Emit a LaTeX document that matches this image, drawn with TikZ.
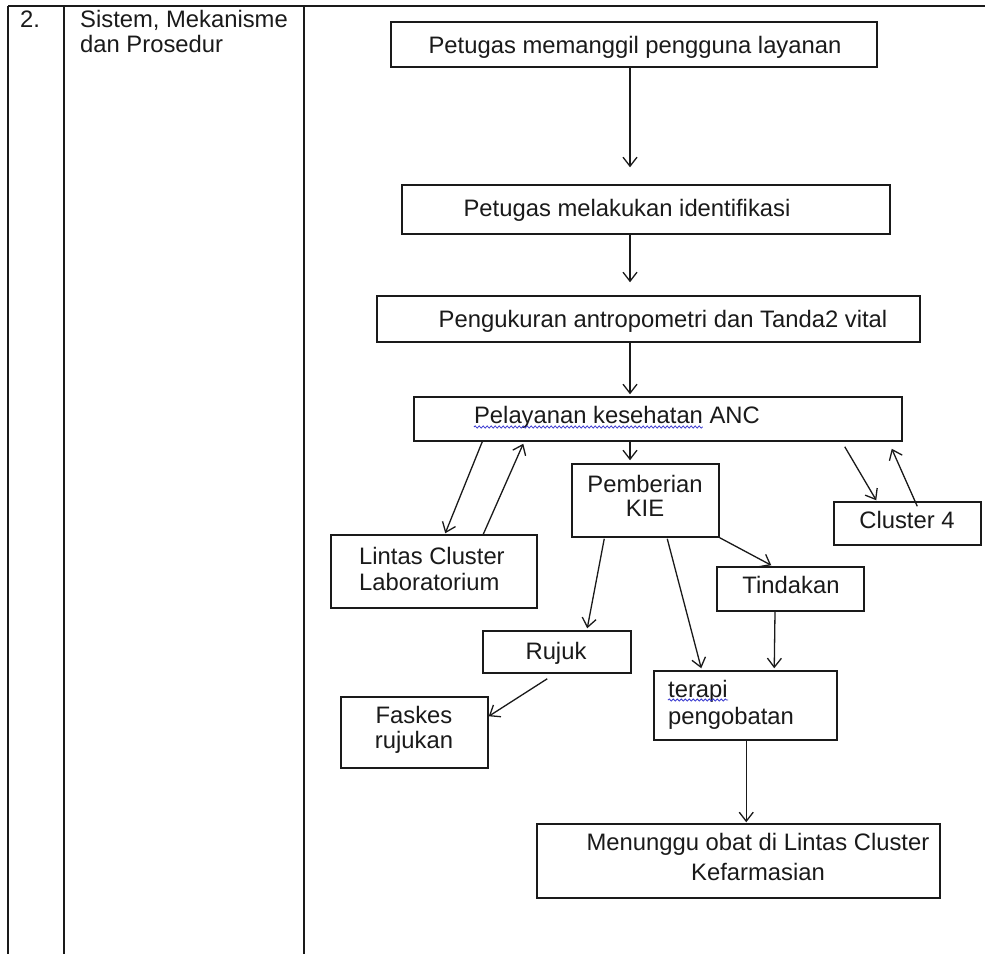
\documentclass[tikz,border=0pt]{standalone}
\usepackage{fontspec}
\setmainfont{Liberation Sans}
\usetikzlibrary{arrows.meta,calc,decorations.pathmorphing}
\definecolor{ink}{HTML}{1A1A1A}
\definecolor{squigblue}{HTML}{3A3AD0}
\begin{document}
\begin{tikzpicture}[x=1pt,y=-1pt,
  box/.style={draw=ink, line width=1.5pt, rectangle, inner sep=0pt},
  txt/.style={text=ink, font=\fontsize{23.8}{26}\selectfont, inner sep=0pt},
  arr/.style={draw=ink, line width=1.3pt, -{Straight Barb[length=9pt,width=14pt]}},
  tablerule/.style={draw=ink, line width=2pt},
  wavy/.style={draw=squigblue, line width=0.8pt, decorate, decoration={snake, amplitude=1.1pt, segment length=4pt}}]
\useasboundingbox (0,0) rectangle (985,954);
\fill[white] (0,0) rectangle (985,954);

% table rules
\draw[tablerule] (8,6) -- (985,6);
\draw[tablerule] (8,6) -- (8,954);
\draw[tablerule] (64,6) -- (64,954);
\draw[tablerule] (304,6) -- (304,954);

% left column texts
\node[txt, anchor=base west] (num) at (20,27) {2.};
\node[txt, anchor=base west, align=left] (head) at (80,52) {Sistem, Mekanisme\\[-1pt]dan Prosedur};

% boxes
\node[box, minimum width=486pt, minimum height=45pt] (b1) at (634,44.5) {};
\node[box, minimum width=488pt, minimum height=49pt] (b2) at (646,209.5) {};
\node[box, minimum width=543pt, minimum height=46pt] (b3) at (648.5,319) {};
\node[box, minimum width=488pt, minimum height=44pt] (b4) at (658,419) {};
\node[box, minimum width=147pt, minimum height=73pt] (kie) at (645.5,500.5) {};
\node[box, minimum width=206pt, minimum height=73pt] (lab) at (434,571.5) {};
\node[box, minimum width=147pt, minimum height=43pt] (c4) at (907.5,523.5) {};
\node[box, minimum width=147pt, minimum height=44pt] (tin) at (790.5,589) {};
\node[box, minimum width=148pt, minimum height=42pt] (ruj) at (557,652) {};
\node[box, minimum width=147pt, minimum height=71pt] (fas) at (414.5,732.5) {};
\node[box, minimum width=183pt, minimum height=69pt] (ter) at (745.5,705.5) {};
\node[box, minimum width=403pt, minimum height=74pt] (men) at (738.5,861) {};

% texts
\node[txt, anchor=base] (t1) at (635,53) {Petugas memanggil pengguna layanan};
\node[txt, anchor=base] (t2) at (627,216) {Petugas melakukan identifikasi};
\node[txt, anchor=base] (t3) at (663,327) {Pengukuran antropometri dan Tanda2 vital};
\node[txt, anchor=base] (t4) at (617,423) {Pelayanan kesehatan ANC};
\node[txt, anchor=base, align=center] (tkie) at (645,516) {Pemberian\\[-2pt]KIE};
\node[txt, anchor=base west, align=left] (tlab) at (359,590) {Lintas Cluster\\Laboratorium};
\node[txt, anchor=base] (tc4) at (907,528) {Cluster 4};
\node[txt, anchor=base] (ttin) at (791,593) {Tindakan};
\node[txt, anchor=base] (truj) at (556,659) {Rujuk};
\node[txt, anchor=base, align=center] (tfas) at (414,748) {Faskes\\[-1pt]rujukan};
\node[txt, anchor=base west, align=left] (tter) at (668,724) {terapi\\[1pt]pengobatan};
\node[txt, anchor=base, align=center] (tmen) at (758,880) {Menunggu obat di Lintas Cluster\\[4pt]Kefarmasian};

% spell-check underlines
\draw[wavy] ([yshift=-4pt]t4.base west) -- ([xshift=229pt,yshift=-4pt]t4.base west);
\draw[wavy] ([yshift=24pt]tter.base west) -- ([xshift=60pt,yshift=24pt]tter.base west);

% connectors
\draw[arr] ([xshift=-4pt]b1.south) -- ([xshift=-16pt,yshift=17pt]b2.north);
\draw[arr] ([xshift=-16pt]b2.south) -- ([xshift=-18.5pt,yshift=13pt]b3.north);
\draw[arr] ([xshift=-18.5pt]b3.south) -- ([xshift=-28pt,yshift=2pt]b4.north);
\draw[arr] ([xshift=-28pt]b4.south) -- ([xshift=-15.5pt,yshift=3pt]kie.north);
\draw[arr] ([xshift=69pt]b4.south west) -- ([xshift=115pt,yshift=1pt]lab.north west);
\draw[arr] ([xshift=153pt]lab.north west) -- ([xshift=110pt,yshift=-2pt]b4.south west);
\draw[arr] ([xshift=-58pt,yshift=-5pt]b4.south east) -- ([xshift=43pt,yshift=1pt]c4.north west);
\draw[arr] ([xshift=84pt,yshift=-5pt]c4.north west) -- ([xshift=-11pt,yshift=-7pt]b4.south east);
\draw[arr] (kie.south east) -- ([xshift=55pt,yshift=1pt]tin.north west);
\draw[arr] ([xshift=33pt,yshift=-1pt]kie.south west) -- ([xshift=105pt,yshift=2pt]ruj.north west);
\draw[arr] ([xshift=96pt,yshift=-1pt]kie.south west) -- ([xshift=48pt,yshift=2pt]ter.north west);
\draw[arr] ([xshift=-15.5pt]tin.south) -- ([xshift=121pt,yshift=2pt]ter.north west);
\draw[arr] ([xshift=65pt,yshift=-5pt]ruj.south west) -- ([yshift=-20pt]fas.north east);
\draw[arr] ([xshift=93pt]ter.south west) -- ([xshift=210pt,yshift=1pt]men.north west);
\end{tikzpicture}
\end{document}
